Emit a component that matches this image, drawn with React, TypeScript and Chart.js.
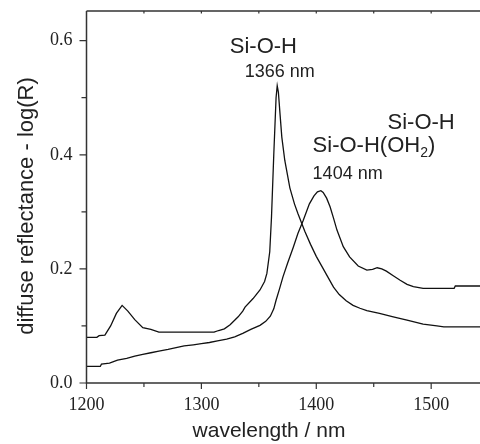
import React, { useEffect, useRef } from "react";
import { Chart, registerables } from "chart.js";

Chart.register(...registerables);

// Spectrum with the sharp Si-O-H band at 1366 nm
const wavelengthA = [
  1200, 1209, 1211, 1216, 1221, 1226, 1231, 1236, 1242, 1249, 1256, 1263, 1290, 1311, 1315, 1320,
  1325, 1332, 1336, 1338, 1345, 1351, 1355, 1357, 1359.5, 1361, 1363, 1365, 1366, 1367, 1368.5,
  1370, 1372.6, 1377, 1381, 1384, 1390, 1395, 1400, 1405, 1410, 1415, 1420, 1426, 1432, 1438, 1444,
  1455, 1467, 1479, 1493, 1505, 1511, 1542.5,
];
const reflectanceA = [
  0.08, 0.08, 0.083, 0.084, 0.1, 0.122, 0.136, 0.126, 0.111, 0.097, 0.094, 0.089, 0.089, 0.089,
  0.092, 0.095, 0.102, 0.116, 0.126, 0.133, 0.148, 0.163, 0.178, 0.192, 0.23, 0.29, 0.4, 0.5, 0.521,
  0.51, 0.47, 0.431, 0.39, 0.342, 0.314, 0.297, 0.266, 0.243, 0.222, 0.204, 0.186, 0.168, 0.155,
  0.144, 0.136, 0.131, 0.127, 0.122, 0.116, 0.11, 0.103, 0.1, 0.0985, 0.0985,
];

// Spectrum with the broad Si-O-H(OH2) band at 1404 nm
const wavelengthB = [
  1200, 1212, 1213, 1220, 1227, 1235, 1242, 1249, 1256, 1263, 1271, 1278, 1285, 1293, 1300, 1307,
  1314, 1322, 1329, 1336, 1343, 1351, 1356, 1360, 1363, 1365, 1368, 1371, 1375, 1380, 1384, 1388.6,
  1394, 1398, 1401, 1404, 1406, 1409, 1412, 1415, 1418, 1423.5, 1429, 1436.5, 1444, 1449, 1453,
  1457, 1461, 1467, 1473, 1479, 1484.5, 1493, 1520, 1521, 1542.5,
];
const reflectanceB = [
  0.029, 0.029, 0.033, 0.035, 0.04, 0.043, 0.047, 0.05, 0.053, 0.056, 0.059, 0.062, 0.065, 0.067,
  0.069, 0.071, 0.074, 0.077, 0.081, 0.087, 0.094, 0.101, 0.108, 0.117, 0.13, 0.145, 0.165, 0.186,
  0.21, 0.238, 0.262, 0.285, 0.314, 0.328, 0.335, 0.337, 0.334, 0.324, 0.309, 0.289, 0.268, 0.239,
  0.221, 0.205, 0.198, 0.199, 0.202, 0.2, 0.196, 0.188, 0.18, 0.173, 0.169, 0.166, 0.166, 0.17, 0.17,
];

const xTickValues = [1200, 1250, 1300, 1350, 1400, 1450, 1500];
const xLabelValues = [1200, 1300, 1400, 1500];
const yTickValues = [0, 0.1, 0.2, 0.3, 0.4, 0.5, 0.6];
const yLabelValues = [0, 0.2, 0.4, 0.6];

const xTitle = "wavelength / nm";
const yTitle = "diffuse reflectance - log(R)";

// Annotations (anchored in data coordinates: wavelength, reflectance)
const annotationTexts = ["Si-O-H", "1366 nm", "Si-O-H", "1404 nm"];
const annotationX = [1324.7, 1337.7, 1462, 1396.8];
const annotationY = [0.579, 0.537, 0.446, 0.357];
const annotationSizes = [22, 18, 22, 18];
const waterLabelMain = "Si-O-H(OH";
const waterLabelSub = "2";
const waterLabelEnd = ")";
const waterLabelX = 1396.8;
const waterLabelY = 0.404;

const X_MIN = 1200;
const X_MAX = 1542.5;
const Y_MIN = 0;
const Y_MAX = 0.652;

const SANS = "'Liberation Sans', Arial, sans-serif";
const SERIF = "'Liberation Serif', 'Times New Roman', serif";
const TEXT = "#222";
const AXIS = "#333";

const decorPlugin = {
  id: "decor",
  afterDraw(chart: any) {
    const { ctx, chartArea, scales } = chart;
    const xs = scales.x;
    const ys = scales.y;
    const { left, right, top, bottom } = chartArea;
    ctx.save();
    ctx.strokeStyle = AXIS;
    ctx.lineWidth = 1.5;
    ctx.beginPath();
    ctx.moveTo(left, top);
    ctx.lineTo(right, top);
    ctx.moveTo(left, top);
    ctx.lineTo(left, bottom);
    ctx.lineTo(right, bottom);
    ctx.stroke();

    ctx.lineWidth = 1.2;
    ctx.beginPath();
    xTickValues.forEach((v) => {
      const px = xs.getPixelForValue(v);
      const len = xLabelValues.includes(v) ? 6 : 4;
      ctx.moveTo(px, bottom);
      ctx.lineTo(px, bottom + len);
      if (v !== X_MIN) {
        ctx.moveTo(px, top);
        ctx.lineTo(px, top + 2.5);
      }
    });
    yTickValues.forEach((v) => {
      const py = ys.getPixelForValue(v);
      const len = yLabelValues.some((l) => Math.abs(l - v) < 1e-9) ? 7 : 5;
      ctx.moveTo(left, py);
      ctx.lineTo(left - len, py);
    });
    ctx.stroke();

    ctx.fillStyle = TEXT;
    // axis titles
    ctx.font = `21px ${SANS}`;
    ctx.textAlign = "center";
    ctx.textBaseline = "alphabetic";
    ctx.fillText(xTitle, 269, 437);
    ctx.save();
    ctx.font = `22px ${SANS}`;
    ctx.translate(33, 206);
    ctx.rotate(-Math.PI / 2);
    ctx.fillText(yTitle, 0, 0);
    ctx.restore();

    // annotations
    ctx.textAlign = "left";
    annotationTexts.forEach((t, i) => {
      ctx.font = `${annotationSizes[i]}px ${SANS}`;
      ctx.fillText(t, xs.getPixelForValue(annotationX[i]), ys.getPixelForValue(annotationY[i]));
    });
    const wx = xs.getPixelForValue(waterLabelX);
    const wy = ys.getPixelForValue(waterLabelY);
    ctx.font = `22px ${SANS}`;
    ctx.fillText(waterLabelMain, wx, wy);
    const w1 = ctx.measureText(waterLabelMain).width;
    ctx.font = `14px ${SANS}`;
    ctx.fillText(waterLabelSub, wx + w1, wy + 5);
    const w2 = ctx.measureText(waterLabelSub).width;
    ctx.font = `22px ${SANS}`;
    ctx.fillText(waterLabelEnd, wx + w1 + w2, wy);
    ctx.restore();
  },
};

export default function App() {
  const ref = useRef<HTMLCanvasElement | null>(null);
  useEffect(() => {
    if (!ref.current) return;
    const chart = new Chart(ref.current, {
      type: "line",
      data: {
        datasets: [
          {
            data: wavelengthA.map((x, i) => ({ x, y: reflectanceA[i] })),
            borderColor: "#111",
            borderWidth: 1.3,
            pointRadius: 0,
            tension: 0,
            fill: false,
          },
          {
            data: wavelengthB.map((x, i) => ({ x, y: reflectanceB[i] })),
            borderColor: "#111",
            borderWidth: 1.3,
            pointRadius: 0,
            tension: 0,
            fill: false,
          },
        ],
      },
      options: {
        animation: false,
        responsive: false,
        devicePixelRatio: 1,
        layout: { padding: { top: 11, left: 0, right: 0, bottom: 0 } },
        plugins: { legend: { display: false }, tooltip: { enabled: false } },
        scales: {
          x: {
            type: "linear",
            min: X_MIN,
            max: X_MAX,
            afterBuildTicks: (s: any) => {
              s.ticks = xLabelValues.map((value) => ({ value }));
            },
            afterFit: (s: any) => {
              s.height = 61;
              s.paddingLeft = 0;
              s.paddingRight = 0;
            },
            grid: { display: false, drawTicks: false },
            border: { display: false },
            ticks: {
              padding: 11,
              color: TEXT,
              font: { family: SERIF, size: 18 },
              callback: (v: any) => String(v),
            },
          },
          y: {
            type: "linear",
            min: Y_MIN,
            max: Y_MAX,
            afterBuildTicks: (s: any) => {
              s.ticks = yLabelValues.map((value) => ({ value }));
            },
            afterFit: (s: any) => {
              s.width = 86.5;
              s.paddingTop = 0;
              s.paddingBottom = 0;
            },
            grid: { display: false, drawTicks: false },
            border: { display: false },
            ticks: {
              padding: 14,
              color: TEXT,
              font: { family: SERIF, size: 18 },
              callback: (v: any) => Number(v).toFixed(1),
            },
          },
        },
      },
      plugins: [decorPlugin],
    });
    return () => chart.destroy();
  }, []);
  return (
    <div style={{ position: "fixed", left: 0, top: 0, width: 480, height: 444, background: "#fff" }}>
      <canvas ref={ref} width={480} height={444} style={{ display: "block" }} />
    </div>
  );
}
